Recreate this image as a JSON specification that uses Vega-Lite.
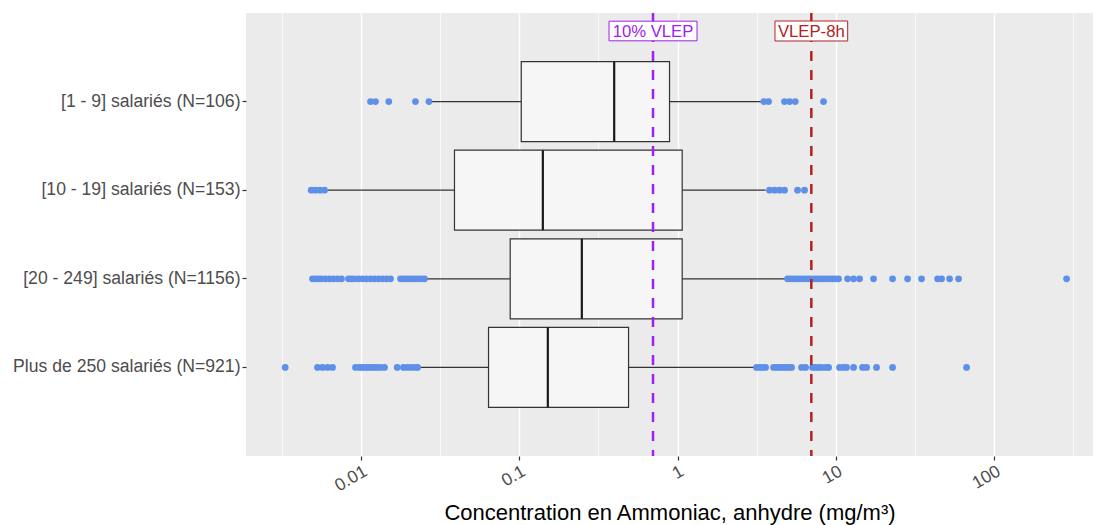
{
  "$schema": "https://vega.github.io/schema/vega-lite/v6.json",
  "width": 847,
  "height": 443,
  "autosize": {"type": "none"},
  "padding": {"left": 246, "top": 13, "right": 1, "bottom": 69},
  "background": "white",
  "view": {"fill": "#EBEBEB", "stroke": null},
  "config": {
    "font": "Liberation Sans",
    "axis": {"domain": false, "gridColor": "white", "labelColor": "#4D4D4D", "tickColor": "#333333", "labelFont": "Liberation Sans", "titleFont": "Liberation Sans"}
  },
  "datasets": {
    "boxes": [
      {"group": "[1 - 9] salariés (N=106)", "low": 0.0278, "q1": 0.103, "median": 0.398, "q3": 0.89, "high": 3.44},
      {"group": "[10 - 19] salariés (N=153)", "low": 0.00615, "q1": 0.039, "median": 0.141, "q3": 1.07, "high": 3.6},
      {"group": "[20 - 249] salariés (N=1156)", "low": 0.02585, "q1": 0.0877, "median": 0.2486, "q3": 1.07, "high": 4.86},
      {"group": "Plus de 250 salariés (N=921)", "low": 0.0237, "q1": 0.064, "median": 0.1516, "q3": 0.4904, "high": 3.06}
    ],
    "outliers": [
      {"group": "[1 - 9] salariés (N=106)", "value": 0.0115},
      {"group": "[1 - 9] salariés (N=106)", "value": 0.01236},
      {"group": "[1 - 9] salariés (N=106)", "value": 0.015},
      {"group": "[1 - 9] salariés (N=106)", "value": 0.0221},
      {"group": "[1 - 9] salariés (N=106)", "value": 0.0269},
      {"group": "[1 - 9] salariés (N=106)", "value": 3.51},
      {"group": "[1 - 9] salariés (N=106)", "value": 3.76},
      {"group": "[1 - 9] salariés (N=106)", "value": 4.74},
      {"group": "[1 - 9] salariés (N=106)", "value": 5.1},
      {"group": "[1 - 9] salariés (N=106)", "value": 5.54},
      {"group": "[1 - 9] salariés (N=106)", "value": 8.36},
      {"group": "[10 - 19] salariés (N=153)", "value": 0.00485},
      {"group": "[10 - 19] salariés (N=153)", "value": 0.00517},
      {"group": "[10 - 19] salariés (N=153)", "value": 0.00552},
      {"group": "[10 - 19] salariés (N=153)", "value": 0.00589},
      {"group": "[10 - 19] salariés (N=153)", "value": 3.81},
      {"group": "[10 - 19] salariés (N=153)", "value": 4.1},
      {"group": "[10 - 19] salariés (N=153)", "value": 4.41},
      {"group": "[10 - 19] salariés (N=153)", "value": 4.74},
      {"group": "[10 - 19] salariés (N=153)", "value": 5.73},
      {"group": "[10 - 19] salariés (N=153)", "value": 6.34},
      {"group": "[20 - 249] salariés (N=1156)", "value": 0.004945},
      {"group": "[20 - 249] salariés (N=1156)", "value": 0.005165},
      {"group": "[20 - 249] salariés (N=1156)", "value": 0.0054},
      {"group": "[20 - 249] salariés (N=1156)", "value": 0.005637},
      {"group": "[20 - 249] salariés (N=1156)", "value": 0.005975},
      {"group": "[20 - 249] salariés (N=1156)", "value": 0.00633},
      {"group": "[20 - 249] salariés (N=1156)", "value": 0.00671},
      {"group": "[20 - 249] salariés (N=1156)", "value": 0.00712},
      {"group": "[20 - 249] salariés (N=1156)", "value": 0.00754},
      {"group": "[20 - 249] salariés (N=1156)", "value": 0.00835},
      {"group": "[20 - 249] salariés (N=1156)", "value": 0.00872},
      {"group": "[20 - 249] salariés (N=1156)", "value": 0.00911},
      {"group": "[20 - 249] salariés (N=1156)", "value": 0.00966},
      {"group": "[20 - 249] salariés (N=1156)", "value": 0.01023},
      {"group": "[20 - 249] salariés (N=1156)", "value": 0.01085},
      {"group": "[20 - 249] salariés (N=1156)", "value": 0.0115},
      {"group": "[20 - 249] salariés (N=1156)", "value": 0.01219},
      {"group": "[20 - 249] salariés (N=1156)", "value": 0.01291},
      {"group": "[20 - 249] salariés (N=1156)", "value": 0.01369},
      {"group": "[20 - 249] salariés (N=1156)", "value": 0.0145},
      {"group": "[20 - 249] salariés (N=1156)", "value": 0.01538},
      {"group": "[20 - 249] salariés (N=1156)", "value": 0.01779},
      {"group": "[20 - 249] salariés (N=1156)", "value": 0.01858},
      {"group": "[20 - 249] salariés (N=1156)", "value": 0.01941},
      {"group": "[20 - 249] salariés (N=1156)", "value": 0.02028},
      {"group": "[20 - 249] salariés (N=1156)", "value": 0.02118},
      {"group": "[20 - 249] salariés (N=1156)", "value": 0.02213},
      {"group": "[20 - 249] salariés (N=1156)", "value": 0.02311},
      {"group": "[20 - 249] salariés (N=1156)", "value": 0.02414},
      {"group": "[20 - 249] salariés (N=1156)", "value": 0.02522},
      {"group": "[20 - 249] salariés (N=1156)", "value": 4.954},
      {"group": "[20 - 249] salariés (N=1156)", "value": 5.173},
      {"group": "[20 - 249] salariés (N=1156)", "value": 5.404},
      {"group": "[20 - 249] salariés (N=1156)", "value": 5.645},
      {"group": "[20 - 249] salariés (N=1156)", "value": 5.897},
      {"group": "[20 - 249] salariés (N=1156)", "value": 6.16},
      {"group": "[20 - 249] salariés (N=1156)", "value": 6.435},
      {"group": "[20 - 249] salariés (N=1156)", "value": 6.722},
      {"group": "[20 - 249] salariés (N=1156)", "value": 7.022},
      {"group": "[20 - 249] salariés (N=1156)", "value": 7.335},
      {"group": "[20 - 249] salariés (N=1156)", "value": 7.662},
      {"group": "[20 - 249] salariés (N=1156)", "value": 8.004},
      {"group": "[20 - 249] salariés (N=1156)", "value": 8.361},
      {"group": "[20 - 249] salariés (N=1156)", "value": 8.734},
      {"group": "[20 - 249] salariés (N=1156)", "value": 9.124},
      {"group": "[20 - 249] salariés (N=1156)", "value": 9.532},
      {"group": "[20 - 249] salariés (N=1156)", "value": 9.956},
      {"group": "[20 - 249] salariés (N=1156)", "value": 10.4},
      {"group": "[20 - 249] salariés (N=1156)", "value": 11.86},
      {"group": "[20 - 249] salariés (N=1156)", "value": 12.94},
      {"group": "[20 - 249] salariés (N=1156)", "value": 14.12},
      {"group": "[20 - 249] salariés (N=1156)", "value": 17.3},
      {"group": "[20 - 249] salariés (N=1156)", "value": 22.82},
      {"group": "[20 - 249] salariés (N=1156)", "value": 28.38},
      {"group": "[20 - 249] salariés (N=1156)", "value": 34.78},
      {"group": "[20 - 249] salariés (N=1156)", "value": 43.9},
      {"group": "[20 - 249] salariés (N=1156)", "value": 46.53},
      {"group": "[20 - 249] salariés (N=1156)", "value": 52.28},
      {"group": "[20 - 249] salariés (N=1156)", "value": 59.59},
      {"group": "[20 - 249] salariés (N=1156)", "value": 286.7},
      {"group": "Plus de 250 salariés (N=921)", "value": 0.003324},
      {"group": "Plus de 250 salariés (N=921)", "value": 0.005318},
      {"group": "Plus de 250 salariés (N=921)", "value": 0.005719},
      {"group": "Plus de 250 salariés (N=921)", "value": 0.006152},
      {"group": "Plus de 250 salariés (N=921)", "value": 0.006616},
      {"group": "Plus de 250 salariés (N=921)", "value": 0.009245},
      {"group": "Plus de 250 salariés (N=921)", "value": 0.009799},
      {"group": "Plus de 250 salariés (N=921)", "value": 0.01023},
      {"group": "Plus de 250 salariés (N=921)", "value": 0.01069},
      {"group": "Plus de 250 salariés (N=921)", "value": 0.01117},
      {"group": "Plus de 250 salariés (N=921)", "value": 0.01167},
      {"group": "Plus de 250 salariés (N=921)", "value": 0.01219},
      {"group": "Plus de 250 salariés (N=921)", "value": 0.01273},
      {"group": "Plus de 250 salariés (N=921)", "value": 0.0133},
      {"group": "Plus de 250 salariés (N=921)", "value": 0.01409},
      {"group": "Plus de 250 salariés (N=921)", "value": 0.01696},
      {"group": "Plus de 250 salariés (N=921)", "value": 0.01858},
      {"group": "Plus de 250 salariés (N=921)", "value": 0.0197},
      {"group": "Plus de 250 salariés (N=921)", "value": 0.02088},
      {"group": "Plus de 250 salariés (N=921)", "value": 0.02213},
      {"group": "Plus de 250 salariés (N=921)", "value": 0.02279},
      {"group": "Plus de 250 salariés (N=921)", "value": 3.155},
      {"group": "Plus de 250 salariés (N=921)", "value": 3.296},
      {"group": "Plus de 250 salariés (N=921)", "value": 3.443},
      {"group": "Plus de 250 salariés (N=921)", "value": 3.597},
      {"group": "Plus de 250 salariés (N=921)", "value": 4.042},
      {"group": "Plus de 250 salariés (N=921)", "value": 4.222},
      {"group": "Plus de 250 salariés (N=921)", "value": 4.41},
      {"group": "Plus de 250 salariés (N=921)", "value": 4.606},
      {"group": "Plus de 250 salariés (N=921)", "value": 4.812},
      {"group": "Plus de 250 salariés (N=921)", "value": 5.026},
      {"group": "Plus de 250 salariés (N=921)", "value": 5.251},
      {"group": "Plus de 250 salariés (N=921)", "value": 6.072},
      {"group": "Plus de 250 salariés (N=921)", "value": 6.435},
      {"group": "Plus de 250 salariés (N=921)", "value": 7.125},
      {"group": "Plus de 250 salariés (N=921)", "value": 7.443},
      {"group": "Plus de 250 salariés (N=921)", "value": 7.775},
      {"group": "Plus de 250 salariés (N=921)", "value": 8.122},
      {"group": "Plus de 250 salariés (N=921)", "value": 8.61},
      {"group": "Plus de 250 salariés (N=921)", "value": 8.994},
      {"group": "Plus de 250 salariés (N=921)", "value": 10.55},
      {"group": "Plus de 250 salariés (N=921)", "value": 11.18},
      {"group": "Plus de 250 salariés (N=921)", "value": 11.68},
      {"group": "Plus de 250 salariés (N=921)", "value": 12.94},
      {"group": "Plus de 250 salariés (N=921)", "value": 14.75},
      {"group": "Plus de 250 salariés (N=921)", "value": 15.63},
      {"group": "Plus de 250 salariés (N=921)", "value": 18.07},
      {"group": "Plus de 250 salariés (N=921)", "value": 22.82},
      {"group": "Plus de 250 salariés (N=921)", "value": 66.93}
    ],
    "limits": [
      {"label": "10% VLEP", "value": 0.7},
      {"label": "VLEP-8h", "value": 7}
    ]
  },
  "layer": [
    {
      "data": {"name": "boxes"},
      "mark": {"type": "rule", "color": "#333333", "strokeWidth": 1.2},
      "encoding": {
        "x": {
          "field": "low", "type": "quantitative",
          "scale": {"type": "log", "domain": [0.00188, 421], "nice": false, "zero": false},
          "axis": {
            "title": "Concentration en Ammoniac, anhydre (mg/m³)",
            "titleFontSize": 22, "titleFontWeight": "normal", "titleColor": "#000000", "titlePadding": 8,
            "values": [0.0031623, 0.01, 0.031623, 0.1, 0.31623, 1, 3.1623, 10, 31.623, 100, 316.23],
            "labelExpr": "indexof([0.01, 0.1, 1, 10, 100], datum.value) >= 0 ? format(datum.value, '~g') : ''",
            "labelAngle": -30, "labelAlign": "right", "labelBaseline": "top", "labelFontSize": 17.5,
            "labelPadding": 2, "labelOverlap": false, "labelBound": false, "labelFlush": false,
            "tickSize": {"condition": {"test": "indexof([0.01, 0.1, 1, 10, 100], datum.value) >= 0", "value": 4}, "value": 0},
            "tickWidth": 1.2,
            "gridWidth": {"condition": {"test": "indexof([0.01, 0.1, 1, 10, 100], datum.value) >= 0", "value": 1.4}, "value": 0.7}
          }
        },
        "x2": {"field": "high"},
        "y": {
          "field": "group", "type": "nominal",
          "sort": ["[1 - 9] salariés (N=106)", "[10 - 19] salariés (N=153)", "[20 - 249] salariés (N=1156)", "Plus de 250 salariés (N=921)"],
          "scale": {"paddingInner": 0, "paddingOuter": 0.5},
          "axis": {"title": null, "bandPosition": 0.5, "labelFontSize": 17.6, "labelPadding": 2, "tickSize": 4, "tickWidth": 1.2, "gridWidth": 1.4, "labelLimit": 400}
        }
      }
    },
    {
      "data": {"name": "boxes"},
      "mark": {"type": "bar", "size": 80, "fill": "#F6F6F6", "stroke": "#333333", "strokeWidth": 1.2},
      "encoding": {
        "x": {"field": "q1", "type": "quantitative"},
        "x2": {"field": "q3"},
        "y": {"field": "group", "type": "nominal", "sort": ["[1 - 9] salariés (N=106)", "[10 - 19] salariés (N=153)", "[20 - 249] salariés (N=1156)", "Plus de 250 salariés (N=921)"]}
      }
    },
    {
      "data": {"name": "boxes"},
      "mark": {"type": "tick", "size": 80, "thickness": 2.2, "color": "#1A1A1A", "opacity": 1},
      "encoding": {
        "x": {"field": "median", "type": "quantitative"},
        "y": {"field": "group", "type": "nominal", "sort": ["[1 - 9] salariés (N=106)", "[10 - 19] salariés (N=153)", "[20 - 249] salariés (N=1156)", "Plus de 250 salariés (N=921)"]}
      }
    },
    {
      "data": {"name": "outliers"},
      "mark": {"type": "circle", "size": 46, "color": "#5F90E8", "opacity": 1},
      "encoding": {
        "x": {"field": "value", "type": "quantitative"},
        "y": {"field": "group", "type": "nominal", "sort": ["[1 - 9] salariés (N=106)", "[10 - 19] salariés (N=153)", "[20 - 249] salariés (N=1156)", "Plus de 250 salariés (N=921)"]}
      }
    },
    {
      "data": {"name": "limits"},
      "mark": {"type": "rule", "strokeWidth": 2.5, "strokeDash": [10, 9]},
      "encoding": {
        "x": {"field": "value", "type": "quantitative"},
        "color": {"field": "label", "type": "nominal", "scale": {"domain": ["10% VLEP", "VLEP-8h"], "range": ["#A020F0", "#B22222"]}, "legend": null}
      }
    },
    {
      "data": {"name": "limits"},
      "mark": {"type": "point", "filled": false, "fill": "white", "fillOpacity": 1, "strokeWidth": 1, "opacity": 1},
      "encoding": {
        "x": {"field": "value", "type": "quantitative"},
        "y": {"value": 18},
        "color": {"field": "label", "type": "nominal", "legend": null},
        "shape": {"field": "label", "type": "nominal", "scale": {"domain": ["10% VLEP", "VLEP-8h"], "range": ["M-1,-0.223H1V0.223H-1Z", "M-1,-0.275H1V0.275H-1Z"]}, "legend": null},
        "size": {"field": "label", "type": "ordinal", "scale": {"domain": ["10% VLEP", "VLEP-8h"], "range": [7744, 5285]}, "legend": null}
      }
    },
    {
      "data": {"name": "limits"},
      "mark": {"type": "text", "fontSize": 16.7, "align": "center", "baseline": "middle", "font": "Liberation Sans"},
      "encoding": {
        "x": {"field": "value", "type": "quantitative"},
        "y": {"value": 18.5},
        "text": {"field": "label"},
        "color": {"field": "label", "type": "nominal", "legend": null}
      }
    }
  ]
}
